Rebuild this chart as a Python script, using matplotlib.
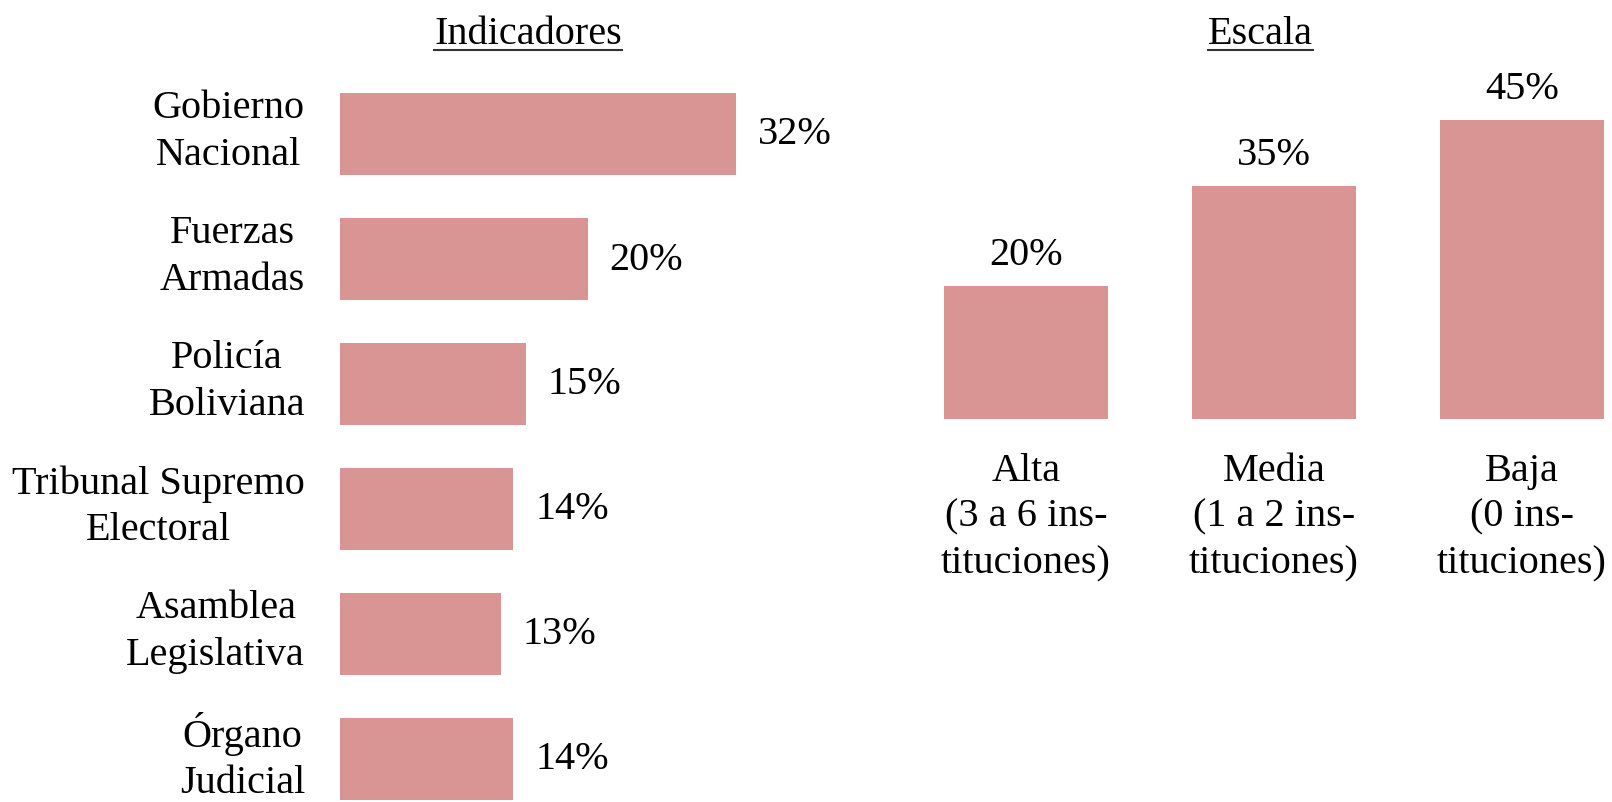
import matplotlib
matplotlib.use("Agg")
import matplotlib.pyplot as plt
from matplotlib.lines import Line2D

plt.rcParams["font.family"] = ["Liberation Serif", "DejaVu Serif"]

# Indicadores (left panel)
indicadores = ["Gobierno\nNacional", "Fuerzas\nArmadas", "Policía\nBoliviana",
               "Tribunal Supremo\nElectoral", "Asamblea\nLegislativa", "Órgano\nJudicial"]
ind_values = [32, 20, 15, 14, 13, 14]

# Escala (right panel)
escala = ["Alta\n(3 a 6 ins-\ntituciones)", "Media\n(1 a 2 ins-\ntituciones)",
          "Baja\n(0 ins-\ntituciones)"]
esc_values = [20, 35, 45]

bar_color = "#D99594"
fs = 29
W, H = 1612, 803

fig = plt.figure(figsize=(W / 100, H / 100), dpi=100)

# left panel: horizontal bars
ax1 = fig.add_axes([340 / W, 0, 495 / W, 733 / H])
ypos = list(range(len(indicadores)))
ax1.barh(ypos, ind_values, height=0.66, color=bar_color)
ax1.set_xlim(0, 40)
ax1.set_ylim(5.344, -0.52)
ax1.set_xticks([])
ax1.set_yticks([])
for s in ax1.spines.values():
    s.set_visible(False)
for y, name, v in zip(ypos, indicadores, ind_values):
    ax1.annotate(name, (0, y), xytext=(-35, 3), textcoords="offset pixels",
                 ha="right", va="center", multialignment="center",
                 fontsize=fs, linespacing=1.33, annotation_clip=False)
    ax1.annotate(f"{v}%", (v, y), xytext=(22, 0), textcoords="offset pixels",
                 ha="left", va="center", fontsize=fs)

# right panel: vertical bars
ax2 = fig.add_axes([900 / W, (H - 420) / H, 712 / W, 360 / H])
xpos = list(range(len(escala)))
ax2.bar(xpos, esc_values, width=0.665, color=bar_color)
ax2.set_xlim(-0.508, 2.363)
ax2.set_ylim(0, 54.1)
ax2.set_xticks(xpos)
ax2.set_xticklabels(escala, fontsize=fs, linespacing=1.33)
ax2.tick_params(axis="x", length=0, pad=23.5)
ax2.set_yticks([])
for s in ax2.spines.values():
    s.set_visible(False)
for x, v in zip(xpos, esc_values):
    ax2.annotate(f"{v}%", (x, v), xytext=(0, 13), textcoords="offset pixels",
                 ha="center", va="bottom", fontsize=fs)

# underlined titles
t1 = fig.text(528 / W, 1 - 34 / H, "Indicadores", ha="center", va="center", fontsize=fs)
t2 = fig.text(1260 / W, 1 - 34 / H, "Escala", ha="center", va="center", fontsize=fs)
fig.canvas.draw()
r = fig.canvas.get_renderer()
for t in (t1, t2):
    bb = t.get_window_extent(r)
    yl = (bb.y0 + 2) / H
    fig.add_artist(Line2D([bb.x0 / W, bb.x1 / W], [yl, yl], color="#333333",
                          lw=1.5, transform=fig.transFigure))

fig.savefig("out.png", dpi=100)
